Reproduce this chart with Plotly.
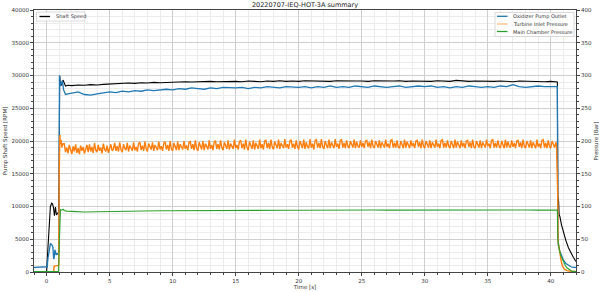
import numpy as np
import plotly.graph_objects as go

# ---------------- data ----------------
title = "20220707-IEQ-HOT-3A summary"

# Shaft speed [RPM] (left axis)
speed_t_start = [-1.0, 0.0, 0.1, 0.2, 0.3, 0.4, 0.47, 0.55, 0.62, 0.7, 0.78, 0.85, 0.95, 0.99,
                 1.04, 1.1, 1.2, 1.3, 1.4, 1.5, 1.7]
speed_v_start = [0, 0, 3500, 8000, 10000, 10500, 10400, 9800, 8600, 9900, 8700, 8900, 9200, 14000,
                 29950, 28700, 28500, 29300, 28900, 28400, 28500]
speed_v_run = [28450, 28550, 28500, 28600, 28550, 28650,
               28700, 28800, 28750, 28850, 28800, 28900, 28850, 28950, 28900, 28950,
               29000, 28950, 29050, 29000, 29050, 29000, 29100, 29050, 29100, 29050,
               29100, 29050, 29150, 29100, 29050, 29150, 29100, 29200, 29100, 29150,
               29100, 29200, 29150, 29100, 29150, 29100, 29200, 29150, 29100, 29150,
               29150, 29100, 29200, 29150, 29100, 29150, 29200, 29100, 29150, 29100,
               29150, 29100, 29200, 29150, 29100, 29250, 29150, 29100, 29150, 29100,
               29150, 29100, 29150, 29100, 29050, 29150, 29100, 29150, 29100, 29050,
               29100]
speed_t_end = [40.45, 40.52, 40.56, 40.62, 40.66, 40.72, 40.85, 41.0, 41.2, 41.4, 41.6, 41.8, 42.0]
speed_v_end = [29050, 29000, 11500, 10800, 8800, 8500, 7200, 6000, 4800, 3700, 2900, 2200, 1600]

# Oxidizer pump outlet [Bar] (right axis)
ox_t_start = [-1.0, 0.0, 0.05, 0.1, 0.2, 0.3, 0.4, 0.5, 0.56, 0.6, 0.66, 0.7, 0.75, 0.8, 0.9, 0.98,
              1.02, 1.08, 1.15, 1.25, 1.35, 1.5, 1.7]
ox_v_start = [7, 7, 8, 20, 36, 43, 42, 38, 20, 22, 34, 27, 26, 28, 27, 30,
              300, 284, 288, 292, 278, 271, 272]
ox_v_run = [273, 275, 271, 270, 272, 274,
            275, 274, 276, 275, 277, 276, 278, 277, 278, 279,
            278, 280, 279, 281, 280, 279, 281, 280, 282, 281,
            281, 282, 280, 282, 281, 283, 282, 281, 283, 282,
            282, 283, 281, 283, 282, 284, 282, 283, 282, 284,
            283, 282, 284, 283, 282, 283, 284, 282, 283, 284,
            283, 284, 282, 283, 281, 283, 282, 284, 283, 282,
            283, 282, 284, 283, 286, 283, 282, 283, 284, 283,
            283]
ox_t_end = [40.45, 40.52, 40.56, 40.6, 40.7, 40.85, 41.0, 41.2, 41.4, 41.6, 41.8, 42.0]
ox_v_end = [283, 283, 60, 40, 33, 25, 18, 13, 10, 8, 7, 7]

# Turbine inlet pressure [Bar] (right axis)
ti_t_start = [-1.0, 0.55, 0.6, 0.65, 0.8, 0.9, 0.96, 1.0, 1.05, 1.1, 1.15, 1.2, 1.3]
ti_v_start = [0, 0, 9, 9, 9, 9, 10, 150, 209, 195, 202, 190, 196]
ti_v_run = [196, 183, 190, 181, 194, 186, 180, 192, 184, 195, 182, 189, 180, 193, 185, 191, 181, 187, 194, 183,
            195, 184, 191, 182, 197, 186, 183, 194, 185, 190, 181, 196, 187, 184, 193, 182, 190, 195, 185, 188,
            197, 185, 192, 184, 198, 187, 183, 195, 189, 186, 197, 184, 193, 188, 185, 198, 186, 191, 184, 196,
            198, 186, 193, 185, 199, 188, 184, 196, 190, 187, 198, 185, 194, 189, 186, 199, 187, 192, 185, 197,
            199, 187, 194, 185, 200, 188, 185, 197, 191, 186, 199, 186, 195, 190, 187, 200, 188, 193, 186, 198,
            199, 188, 195, 186, 201, 189, 185, 198, 191, 187, 200, 186, 196, 190, 187, 201, 188, 194, 186, 199,
            200, 188, 195, 187, 201, 190, 186, 198, 192, 188, 201, 187, 196, 191, 188, 202, 189, 194, 187, 199,
            201, 189, 196, 187, 202, 190, 186, 199, 192, 188, 201, 187, 197, 191, 188, 202, 189, 195, 187, 200,
            201, 189, 197, 188, 202, 191, 187, 199, 193, 189, 202, 188, 197, 192, 189, 203, 190, 195, 188, 200,
            202, 190, 196, 188, 201, 191, 187, 200, 193, 189, 202, 188, 198, 191, 189, 203, 190, 196, 187, 201,
            202, 190, 197, 189, 203, 191, 188, 200, 194, 189, 202, 189, 198, 192, 189, 203, 191, 196, 188, 201,
            202, 190, 197, 189, 201, 192, 189, 200, 194, 190, 202, 189, 199, 192, 190, 201, 191, 197, 189, 200,
            201, 191, 198, 189, 202, 192, 189, 200, 195, 190, 201, 189, 198, 193, 190, 202, 191, 196, 189, 201,
            202, 190, 197, 190, 201, 191, 189, 200, 194, 189, 202, 190, 199, 192, 189, 201, 192, 197, 189, 200,
            201, 191, 198, 189, 202, 192, 189, 200, 194, 190, 201, 189, 198, 193, 190, 202, 191, 196, 189, 201,
            202, 190, 197, 190, 201, 192, 189, 200, 195, 189, 202, 190, 199, 192, 189, 201, 191, 197, 189, 200,
            201, 191, 198, 189, 202, 191, 189, 200, 194, 190, 201, 189, 198, 193, 190, 202, 192, 196, 189, 201,
            202, 190, 197, 190, 201, 192, 189, 200, 194, 189, 202, 190, 199, 192, 190, 201, 191, 197, 189, 200,
            201, 191, 198, 189, 202, 192, 189, 200, 195, 190, 201, 189, 198, 193, 189, 202, 191, 196, 189, 201,
            202, 190, 197, 189, 201, 192, 189, 200, 194, 190, 198]
ti_t_end = [40.45, 40.55, 40.58, 40.65, 40.75, 40.85, 40.95, 41.1, 41.3, 41.6, 42.0]
ti_v_end = [195, 120, 46, 38, 24, 14, 8, 4, 2, 1, 1]

# Main chamber pressure [Bar] (right axis)
mc_t_start = [-1.0, 0.95, 1.0, 1.05, 1.1, 1.2, 1.3, 1.4, 1.6, 2.0, 2.5, 3.0, 4.0]
mc_v_start = [0.5, 0.5, 40, 94, 95, 94.5, 96, 94, 93, 92.5, 92, 91.5, 92]
mc_v_run = [92.5, 93.0, 92.8, 93.2, 93.5, 93.6, 93.8, 93.7, 94.0, 93.9,
            94.1, 94.0, 94.2, 94.1, 94.3, 94.2, 94.4, 94.3, 94.5, 94.4,
            94.5, 94.6, 94.4, 94.5, 94.6, 94.5, 94.7, 94.5, 94.6, 94.5,
            94.6, 94.5, 94.6, 94.7, 94.5, 94.6]
mc_t_end = [40.45, 40.52, 40.56, 40.62, 40.7, 40.8, 41.0, 41.15, 41.3, 41.5, 41.7, 42.0]
mc_v_end = [94.5, 94.5, 50, 40, 32, 25, 16, 10, 6, 3, 1, 0.5]

# legend labels
left_legend = ["Shaft Speed"]
right_legend = ["Oxidizer Pump Outlet", "Turbine Inlet Pressure", "Main Chamber Pressure"]

# ---------------- sample grids ----------------
speed_t_run = list(np.round(np.arange(2.0, 40.01, 0.5), 3))
ox_t_run = list(np.round(np.arange(2.0, 40.01, 0.5), 3))
ti_t_run = list(np.round(np.arange(1.4, 40.41, 0.1), 3))[:len(ti_v_run)]
mc_t_run = list(np.round(np.arange(5.0, 40.01, 1.0), 3))

speed_t = speed_t_start + speed_t_run + speed_t_end
speed_v = speed_v_start + speed_v_run + speed_v_end
ox_t = ox_t_start + ox_t_run + ox_t_end
ox_v = ox_v_start + ox_v_run + ox_v_end
ti_t = ti_t_start + ti_t_run + ti_t_end
ti_v = ti_v_start + ti_v_run + ti_v_end
mc_t = mc_t_start + mc_t_run + mc_t_end
mc_v = mc_v_start + mc_v_run + mc_v_end

FONT = "DejaVu Sans"
C_BLUE, C_ORANGE, C_GREEN = "#1f77b4", "#ff7f0e", "#2ca02c"
fig = go.Figure()

fig.add_trace(go.Scatter(x=ox_t, y=ox_v, mode="lines", name=right_legend[0],
                         line=dict(color=C_BLUE, width=1.3), yaxis="y2"))
fig.add_trace(go.Scatter(x=ti_t, y=ti_v, mode="lines", name=right_legend[1],
                         line=dict(color=C_ORANGE, width=1.4), yaxis="y2"))
fig.add_trace(go.Scatter(x=mc_t, y=mc_v, mode="lines", name=right_legend[2],
                         line=dict(color=C_GREEN, width=1.1), yaxis="y2"))
fig.add_trace(go.Scatter(x=speed_t, y=speed_v, mode="lines", name=left_legend[0],
                         line=dict(color="black", width=1.1), yaxis="y"))

# ---- manual matplotlib-style legends (pixel geometry of the plot area) ----
PX0, PX1, PY0, PY1 = 34, 576, 10, 272
def px(x):
    return (x - PX0) / (PX1 - PX0)
def py(y):
    return (PY1 - y) / (PY1 - PY0)

shapes, annots = [], []
def legend_box(x0, x1, y0, y1):
    shapes.append(dict(type="rect", xref="paper", yref="paper", x0=px(x0), x1=px(x1),
                       y0=py(y1), y1=py(y0), line=dict(color="#d0d0d0", width=0.8),
                       fillcolor="rgba(255,255,255,0.85)", layer="above"))
def legend_item(x_line, y, color, label):
    shapes.append(dict(type="line", xref="paper", yref="paper", x0=px(x_line), x1=px(x_line + 10.5),
                       y0=py(y), y1=py(y), line=dict(color=color, width=1.3), layer="above"))
    annots.append(dict(text=label, xref="paper", yref="paper", x=px(x_line + 14), y=py(y),
                       xanchor="left", yanchor="middle", showarrow=False,
                       font=dict(size=5, family=FONT, color="#333")))

legend_box(36.5, 85, 12, 21)
legend_item(39.5, 16.5, "black", left_legend[0])

legend_box(495, 574, 12.5, 36.5)
legend_item(497, 16.3, C_BLUE, right_legend[0])
legend_item(497, 24, "#ffbf86", right_legend[1])
legend_item(497, 31.5, C_GREEN, right_legend[2])

axis_common = dict(showline=True, linecolor="#444", linewidth=0.8, automargin=False,
                   ticks="outside", ticklen=3, tickwidth=0.8, tickcolor="#444",
                   tickfont=dict(size=5.5, color="#333", family=FONT), zeroline=False)

fig.update_layout(
    width=600, height=292,
    margin=dict(l=PX0, r=600 - PX1, t=PY0, b=292 - PY1),
    paper_bgcolor="white", plot_bgcolor="white",
    font=dict(family=FONT, size=6, color="#333"),
    title=dict(text=title, x=0.5, xref="paper", y=0.983, yanchor="middle",
               font=dict(size=6.5, color="#222", family=FONT)),
    xaxis=dict(range=[-1, 42], dtick=5, tick0=0, showgrid=True, gridcolor="#cfcfcf", gridwidth=1,
               mirror=True,
               minor=dict(dtick=1, tick0=0, showgrid=True, gridcolor="#ececec", gridwidth=0.6,
                          ticks="outside", ticklen=2, tickcolor="#444"),
               title=dict(text="Time [s]", font=dict(size=5.5, family=FONT), standoff=2),
               **axis_common),
    yaxis=dict(range=[0, 40000], dtick=5000, tickformat="d", showgrid=True, gridcolor="#cfcfcf",
               gridwidth=1,
               minor=dict(dtick=1000, showgrid=True, gridcolor="#ececec", gridwidth=0.6,
                          ticks="outside", ticklen=2, tickcolor="#444"),
               title=dict(text="Pump Shaft Speed [RPM]", font=dict(size=5.5, family=FONT), standoff=3),
               **axis_common),
    yaxis2=dict(range=[0, 400], dtick=50, overlaying="y", side="right", showgrid=False,
                minor=dict(dtick=10, ticks="outside", ticklen=2, tickcolor="#444"),
                title=dict(text="Pressure [Bar]", font=dict(size=5.5, family=FONT), standoff=3),
                **axis_common),
    showlegend=False,
    shapes=shapes,
    annotations=annots,
)

fig.write_html("out.html")
